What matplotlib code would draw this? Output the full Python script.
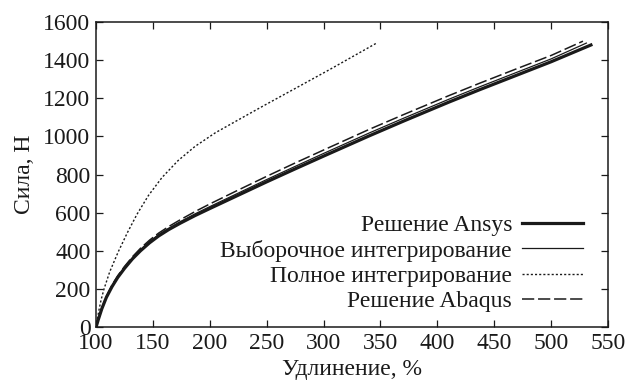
import matplotlib
matplotlib.use("Agg")
import matplotlib.pyplot as plt

plt.rcParams['font.family'] = ['Liberation Serif', 'DejaVu Serif']
plt.rcParams['font.size'] = 17

# Решение Ansys
ansys_x = [100, 102, 105, 109, 114, 119, 125, 132, 139, 147, 155, 164, 174, 187, 200, 225, 250, 275, 300, 340, 370, 410, 437, 470, 500, 535]
ansys_y = [0, 40, 95, 155, 212, 260, 308, 358, 400, 442, 478, 512, 545, 585, 622, 692, 762, 830, 897, 1003, 1080, 1180, 1245, 1322, 1392, 1480]

# Выборочное интегрирование
vyb_x = [100, 102, 105, 109, 114, 119, 125, 132, 139, 147, 155, 164, 174, 187, 200, 225, 250, 275, 300, 340, 370, 410, 437, 470, 500, 531]
vyb_y = [0, 41, 97, 158, 216, 264, 313, 363, 406, 448, 485, 519, 553, 594, 632, 703, 774, 843, 911, 1018, 1095, 1195, 1260, 1337, 1407, 1490]

# Полное интегрирование
pol_x = [100, 101, 102.5, 104.5, 107, 112, 119.5, 127.5, 136, 146, 158, 172, 187, 205, 225, 246, 276, 305, 346]
pol_y = [0, 38, 88, 145, 200, 290, 395, 495, 592, 690, 785, 873, 948, 1020, 1087, 1157, 1255, 1350, 1488]

# Решение Abaqus
abq_x = [100, 102, 105, 109, 114, 119, 125, 132, 139, 147, 155, 164, 174, 187, 200, 225, 250, 275, 300, 340, 370, 410, 437, 470, 500, 528]
abq_y = [0, 42, 99, 161, 220, 269, 318, 369, 413, 456, 493, 528, 563, 606, 646, 719, 791, 861, 929, 1037, 1114, 1214, 1279, 1356, 1425, 1500]

x_ticks = [100, 150, 200, 250, 300, 350, 400, 450, 500, 550]
y_ticks = [0, 200, 400, 600, 800, 1000, 1200, 1400, 1600]

fig = plt.figure(figsize=(6.32, 3.88), dpi=100)
ax = fig.add_axes([0.152, 0.157, 0.810, 0.786])

ink = '#1a1a1a'
ax.plot(ansys_x, ansys_y, color=ink, lw=2.3, label='Решение Ansys')
ax.plot(vyb_x, vyb_y, color=ink, lw=0.9, label='Выборочное интегрирование')
ax.plot(pol_x, pol_y, color=ink, lw=1.0, linestyle=(0, (1.5, 1.5)), label='Полное интегрирование')
ax.plot(abq_x, abq_y, color=ink, lw=1.1, linestyle=(0, (8, 2.5)), label='Решение Abaqus')

ax.set_xlim(100, 550)
ax.set_ylim(0, 1600)
ax.set_xticks(x_ticks)
ax.set_yticks(y_ticks)
ax.tick_params(direction='in', top=True, right=True, length=5, width=0.9,
               colors=ink, labelsize=17, pad=4)
for s in ax.spines.values():
    s.set_linewidth(1.1)
    s.set_color(ink)

ax.set_xlabel('Удлинение, %', fontsize=17, color=ink, labelpad=4)
ax.set_ylabel('Сила, Н', fontsize=17, color=ink, labelpad=6)

ax.legend(loc='lower right', bbox_to_anchor=(0.951, 0.05), frameon=False,
          markerfirst=False, fontsize=17, handlelength=2.6, handletextpad=0.4,
          labelspacing=0.15, borderpad=0, borderaxespad=0, labelcolor=ink)

fig.savefig('out.png', dpi=100)
